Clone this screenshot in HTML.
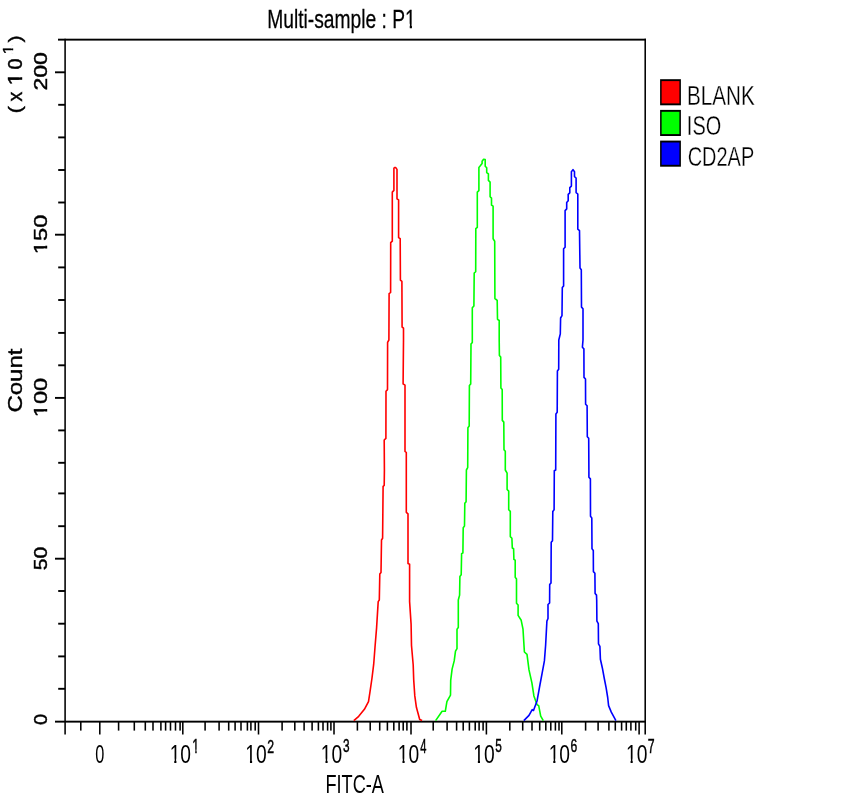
<!DOCTYPE html>
<html><head><meta charset="utf-8"><title>Multi-sample : P1</title>
<style>
html,body{margin:0;padding:0;background:#fff;}
body{width:860px;height:800px;overflow:hidden;}
svg{display:block;will-change:transform;}
text{font-family:"Liberation Sans",sans-serif;font-size:10px;font-kerning:none;}
</style></head><body>
<svg width="860" height="800" viewBox="0 0 860 800">
<defs><clipPath id="k0"><path clip-rule="evenodd" d="M-20,-30H400V20H-20ZM0.200,-1.600H2.400V1.500H0.200ZM3.515,-1.600H5.480V1.500H3.515Z"/></clipPath><clipPath id="k1"><path clip-rule="evenodd" d="M-20,-30H400V20H-20ZM71.885,-1.600H74.085V1.500H71.885ZM75.200,-1.600H77.165V1.500H75.200Z"/></clipPath></defs>
<rect width="860" height="800" fill="#fff"/>
<rect x="58.00" y="38.70" width="588.00" height="1.90" fill="#000"/>
<rect x="55.00" y="720.70" width="591.00" height="1.90" fill="#000"/>
<rect x="64.32" y="38.75" width="1.55" height="695.75" fill="#000"/>
<rect x="644.43" y="38.75" width="1.55" height="695.75" fill="#000"/>
<rect x="58.20" y="687.85" width="6.90" height="1.90" fill="#000"/>
<rect x="58.20" y="655.45" width="6.90" height="1.90" fill="#000"/>
<rect x="58.20" y="622.75" width="6.90" height="1.90" fill="#000"/>
<rect x="58.20" y="590.05" width="6.90" height="1.90" fill="#000"/>
<rect x="55.00" y="557.75" width="10.10" height="1.90" fill="#000"/>
<rect x="58.20" y="525.25" width="6.90" height="1.90" fill="#000"/>
<rect x="58.20" y="492.45" width="6.90" height="1.90" fill="#000"/>
<rect x="58.20" y="461.85" width="6.90" height="1.90" fill="#000"/>
<rect x="58.20" y="429.45" width="6.90" height="1.90" fill="#000"/>
<rect x="55.00" y="396.95" width="10.10" height="1.90" fill="#000"/>
<rect x="58.20" y="364.35" width="6.90" height="1.90" fill="#000"/>
<rect x="58.20" y="331.95" width="6.90" height="1.90" fill="#000"/>
<rect x="58.20" y="299.05" width="6.90" height="1.90" fill="#000"/>
<rect x="58.20" y="266.45" width="6.90" height="1.90" fill="#000"/>
<rect x="55.00" y="233.75" width="10.10" height="1.90" fill="#000"/>
<rect x="58.20" y="201.55" width="6.90" height="1.90" fill="#000"/>
<rect x="58.20" y="169.05" width="6.90" height="1.90" fill="#000"/>
<rect x="58.20" y="136.45" width="6.90" height="1.90" fill="#000"/>
<rect x="58.20" y="103.85" width="6.90" height="1.90" fill="#000"/>
<rect x="55.00" y="71.35" width="10.10" height="1.90" fill="#000"/>
<rect x="99.02" y="721.65" width="1.55" height="12.85" fill="#000"/>
<rect x="80.02" y="721.65" width="1.55" height="8.95" fill="#000"/>
<rect x="117.82" y="721.65" width="1.55" height="8.95" fill="#000"/>
<rect x="133.53" y="721.65" width="1.55" height="8.95" fill="#000"/>
<rect x="144.53" y="721.65" width="1.55" height="8.95" fill="#000"/>
<rect x="152.22" y="721.65" width="1.55" height="8.95" fill="#000"/>
<rect x="160.12" y="721.65" width="1.55" height="8.95" fill="#000"/>
<rect x="164.82" y="721.65" width="1.55" height="8.95" fill="#000"/>
<rect x="169.72" y="721.65" width="1.55" height="8.95" fill="#000"/>
<rect x="174.72" y="721.65" width="1.55" height="8.95" fill="#000"/>
<rect x="179.32" y="721.65" width="1.55" height="8.95" fill="#000"/>
<rect x="182.03" y="721.65" width="1.55" height="12.85" fill="#000"/>
<rect x="257.73" y="721.65" width="1.55" height="12.85" fill="#000"/>
<rect x="333.23" y="721.65" width="1.55" height="12.85" fill="#000"/>
<rect x="410.23" y="721.65" width="1.55" height="12.85" fill="#000"/>
<rect x="485.62" y="721.65" width="1.55" height="12.85" fill="#000"/>
<rect x="561.02" y="721.65" width="1.55" height="12.85" fill="#000"/>
<rect x="638.33" y="721.65" width="1.55" height="12.85" fill="#000"/>
<rect x="204.32" y="721.65" width="1.55" height="8.95" fill="#000"/>
<rect x="218.32" y="721.65" width="1.55" height="8.95" fill="#000"/>
<rect x="227.92" y="721.65" width="1.55" height="8.95" fill="#000"/>
<rect x="234.32" y="721.65" width="1.55" height="8.95" fill="#000"/>
<rect x="240.22" y="721.65" width="1.55" height="8.95" fill="#000"/>
<rect x="246.62" y="721.65" width="1.55" height="8.95" fill="#000"/>
<rect x="250.12" y="721.65" width="1.55" height="8.95" fill="#000"/>
<rect x="254.42" y="721.65" width="1.55" height="8.95" fill="#000"/>
<rect x="281.33" y="721.65" width="1.55" height="8.95" fill="#000"/>
<rect x="294.03" y="721.65" width="1.55" height="8.95" fill="#000"/>
<rect x="303.33" y="721.65" width="1.55" height="8.95" fill="#000"/>
<rect x="311.33" y="721.65" width="1.55" height="8.95" fill="#000"/>
<rect x="317.62" y="721.65" width="1.55" height="8.95" fill="#000"/>
<rect x="322.23" y="721.65" width="1.55" height="8.95" fill="#000"/>
<rect x="326.83" y="721.65" width="1.55" height="8.95" fill="#000"/>
<rect x="330.12" y="721.65" width="1.55" height="8.95" fill="#000"/>
<rect x="356.62" y="721.65" width="1.55" height="8.95" fill="#000"/>
<rect x="369.43" y="721.65" width="1.55" height="8.95" fill="#000"/>
<rect x="378.93" y="721.65" width="1.55" height="8.95" fill="#000"/>
<rect x="386.62" y="721.65" width="1.55" height="8.95" fill="#000"/>
<rect x="393.03" y="721.65" width="1.55" height="8.95" fill="#000"/>
<rect x="398.33" y="721.65" width="1.55" height="8.95" fill="#000"/>
<rect x="402.43" y="721.65" width="1.55" height="8.95" fill="#000"/>
<rect x="406.12" y="721.65" width="1.55" height="8.95" fill="#000"/>
<rect x="432.43" y="721.65" width="1.55" height="8.95" fill="#000"/>
<rect x="446.33" y="721.65" width="1.55" height="8.95" fill="#000"/>
<rect x="455.83" y="721.65" width="1.55" height="8.95" fill="#000"/>
<rect x="462.43" y="721.65" width="1.55" height="8.95" fill="#000"/>
<rect x="468.62" y="721.65" width="1.55" height="8.95" fill="#000"/>
<rect x="474.43" y="721.65" width="1.55" height="8.95" fill="#000"/>
<rect x="478.33" y="721.65" width="1.55" height="8.95" fill="#000"/>
<rect x="482.33" y="721.65" width="1.55" height="8.95" fill="#000"/>
<rect x="509.03" y="721.65" width="1.55" height="8.95" fill="#000"/>
<rect x="521.93" y="721.65" width="1.55" height="8.95" fill="#000"/>
<rect x="531.23" y="721.65" width="1.55" height="8.95" fill="#000"/>
<rect x="538.93" y="721.65" width="1.55" height="8.95" fill="#000"/>
<rect x="545.02" y="721.65" width="1.55" height="8.95" fill="#000"/>
<rect x="550.02" y="721.65" width="1.55" height="8.95" fill="#000"/>
<rect x="554.62" y="721.65" width="1.55" height="8.95" fill="#000"/>
<rect x="558.23" y="721.65" width="1.55" height="8.95" fill="#000"/>
<rect x="584.83" y="721.65" width="1.55" height="8.95" fill="#000"/>
<rect x="597.33" y="721.65" width="1.55" height="8.95" fill="#000"/>
<rect x="608.12" y="721.65" width="1.55" height="8.95" fill="#000"/>
<rect x="614.52" y="721.65" width="1.55" height="8.95" fill="#000"/>
<rect x="620.83" y="721.65" width="1.55" height="8.95" fill="#000"/>
<rect x="625.52" y="721.65" width="1.55" height="8.95" fill="#000"/>
<rect x="630.12" y="721.65" width="1.55" height="8.95" fill="#000"/>
<rect x="634.93" y="721.65" width="1.55" height="8.95" fill="#000"/>
<text transform="matrix(1.6317 0 0 2.5212 95.26 762.75)" fill="#000">0</text>
<text transform="matrix(1.9242 0 0 2.5212 169.65 762.75)" fill="#000" clip-path="url(#k0)">10</text>
<text transform="matrix(1.2313 0 0 1.9477 192.32 752.60)" fill="#000" stroke="#000" stroke-width="0.25" clip-path="url(#k0)">1</text>
<text transform="matrix(1.9242 0 0 2.5212 245.35 762.75)" fill="#000" clip-path="url(#k0)">10</text>
<text transform="matrix(1.2292 0 0 1.9191 267.28 752.60)" fill="#000" stroke="#000" stroke-width="0.25">2</text>
<text transform="matrix(1.9242 0 0 2.5212 320.85 762.75)" fill="#000" clip-path="url(#k0)">10</text>
<text transform="matrix(1.1811 0 0 1.8926 342.95 752.42)" fill="#000" stroke="#000" stroke-width="0.25">3</text>
<text transform="matrix(1.9242 0 0 2.5212 397.85 762.75)" fill="#000" clip-path="url(#k0)">10</text>
<text transform="matrix(1.1113 0 0 1.9477 420.14 752.60)" fill="#000" stroke="#000" stroke-width="0.25">4</text>
<text transform="matrix(1.9242 0 0 2.5212 473.25 762.75)" fill="#000" clip-path="url(#k0)">10</text>
<text transform="matrix(1.1811 0 0 1.9204 495.33 752.41)" fill="#000" stroke="#000" stroke-width="0.25">5</text>
<text transform="matrix(1.9242 0 0 2.5212 548.65 762.75)" fill="#000" clip-path="url(#k0)">10</text>
<text transform="matrix(1.2136 0 0 1.8926 570.58 752.42)" fill="#000" stroke="#000" stroke-width="0.25">6</text>
<text transform="matrix(1.9242 0 0 2.5212 625.95 762.75)" fill="#000" clip-path="url(#k0)">10</text>
<text transform="matrix(1.2319 0 0 1.9477 647.87 752.60)" fill="#000" stroke="#000" stroke-width="0.25">7</text>
<text transform="matrix(1.8166 0 0 2.5581 325.41 793.30)" fill="#000">FITC-A</text>
<text transform="matrix(1.9243 0 0 2.5436 267.22 27.70)" fill="#000" stroke="#000" stroke-width="0.1" clip-path="url(#k1)">Multi-sample : P1</text>
<text transform="translate(46.62 90.56) rotate(-90) scale(2.2988 1.8503)" stroke="#000" stroke-width="0.22">200</text>
<text transform="translate(46.62 254.18) rotate(-90) scale(2.3676 1.8503)" stroke="#000" stroke-width="0.22" clip-path="url(#k0)">150</text>
<text transform="translate(46.62 417.28) rotate(-90) scale(2.3676 1.8503)" stroke="#000" stroke-width="0.22" clip-path="url(#k0)">100</text>
<text transform="translate(46.62 570.24) rotate(-90) scale(2.1099 1.8503)" stroke="#000" stroke-width="0.22">50</text>
<text transform="translate(46.62 724.97) rotate(-90) scale(1.9664 1.8503)" stroke="#000" stroke-width="0.22">0</text>
<text transform="translate(21.71 412.62) rotate(-90) scale(2.4020 1.9350)" stroke="#000" stroke-width="0.18">Count</text>
<text transform="translate(21.24 113.23) rotate(-90) scale(2.1498 1.8140)" stroke="#000" stroke-width="0.22">(</text>
<text transform="translate(21.90 101.52) rotate(-90) scale(1.9664 2.0253)" stroke="#000" stroke-width="0.22">x</text>
<text transform="translate(21.90 85.45) rotate(-90) scale(2.3394 1.9477)" stroke="#000" stroke-width="0.22" clip-path="url(#k0)">1</text>
<text transform="translate(21.91 69.57) rotate(-90) scale(1.9769 1.9633)" stroke="#000" stroke-width="0.22">0</text>
<text transform="translate(13.30 54.18) rotate(-90) scale(1.6417 1.4099)" stroke="#000" stroke-width="0.3" clip-path="url(#k0)">1</text>
<text transform="translate(21.24 42.62) rotate(-90) scale(2.1310 1.8140)" stroke="#000" stroke-width="0.22">)</text>
<rect x="660.1" y="79.20" width="20.8" height="26.1" fill="#000"/>
<rect x="661.6" y="81.10" width="17.8" height="22.3" fill="#ff0000"/>
<text transform="matrix(2.0684 0 0 2.7326 687.00 104.70)" fill="#000" stroke="#fff" stroke-width="0.1">BLANK</text>
<rect x="660.1" y="109.90" width="20.8" height="26.1" fill="#000"/>
<rect x="661.6" y="111.80" width="17.8" height="22.3" fill="#00ff00"/>
<text transform="matrix(1.9905 0 0 2.7326 686.86 135.35)" fill="#000" stroke="#fff" stroke-width="0.1">ISO</text>
<rect x="660.1" y="140.60" width="20.8" height="26.1" fill="#000"/>
<rect x="661.6" y="142.50" width="17.8" height="22.3" fill="#0000ff"/>
<text transform="matrix(1.9963 0 0 2.7326 687.69 166.00)" fill="#000" stroke="#fff" stroke-width="0.1">CD2AP</text>
<polyline points="353.8,720.6 358.7,716.3 364.4,709.3 368.5,701.6 370.1,691.1 372.0,678.0 373.7,664.2 375.0,647.2 376.6,627.6 378.2,601.6 379.3,600.0 379.8,574.0 381.0,572.4 381.5,540.0 382.6,538.3 383.1,486.3 384.2,485.4 384.4,470.0 384.2,440.0 385.9,438.4 386.0,391.2 387.5,389.6 387.6,342.4 388.9,340.0 389.1,293.7 390.6,292.5 390.7,242.7 392.3,241.2 392.3,192.1 393.9,190.4 393.9,168.3 394.6,167.5 395.6,167.5 397.0,169.4 397.0,198.8 398.6,199.9 398.6,237.6 400.2,238.7 400.4,280.2 401.9,281.4 402.1,327.0 403.5,328.1 403.5,340.0 403.1,383.9 405.0,385.2 405.0,451.4 406.3,452.5 406.3,470.0 406.3,512.3 408.0,513.9 408.0,563.5 409.6,564.3 409.6,601.6 411.1,624.4 411.5,645.5 413.2,665.0 413.7,679.7 414.8,695.9 416.4,707.3 419.7,719.5 422.1,720.6" fill="none" stroke="#ff0000" stroke-width="1.6" stroke-linejoin="round"/>
<polyline points="435.6,720.6 442.1,711.3 445.3,711.3 446.9,701.6 450.5,695.1 450.7,680.4 452.1,669.1 454.2,660.9 455.5,651.2 457.0,648.7 457.0,629.2 458.3,627.6 458.3,600.0 459.6,595.1 459.9,576.4 461.2,574.8 461.6,553.7 462.9,552.9 463.2,527.7 464.5,526.1 464.8,503.3 466.1,501.7 466.4,470.0 467.7,467.6 467.9,427.7 469.2,426.1 469.4,385.5 470.7,383.9 471.0,344.1 472.3,342.4 472.3,307.8 473.9,305.9 474.2,273.0 475.7,271.7 475.8,228.7 477.3,227.4 477.3,192.2 478.9,190.7 478.9,167.4 480.5,165.5 482.1,163.5 482.1,161.2 483.6,159.2 485.2,159.6 485.2,166.3 486.7,167.8 486.7,172.5 488.4,173.8 488.4,180.4 490.1,182.1 490.1,196.7 491.5,198.1 491.5,205.1 493.1,206.2 493.1,238.8 494.7,241.3 494.9,298.5 497.2,300.3 497.5,319.3 499.2,320.5 499.2,340.0 499.4,355.4 500.7,357.1 500.9,387.9 502.2,389.6 502.3,420.4 503.8,422.1 504.0,449.7 505.3,451.3 505.3,470.0 507.1,473.2 507.1,489.5 508.7,491.1 508.7,509.8 510.3,511.4 510.3,536.6 511.9,538.2 512.3,548.0 513.6,548.8 513.9,559.4 515.2,560.2 515.2,577.2 516.5,578.9 516.5,603.3 518.1,605.0 518.1,615.4 521.2,620.3 523.0,629.2 524.4,652.0 527.0,654.4 529.0,669.9 531.9,682.9 533.9,695.9 537.1,704.8 538.7,705.6 540.7,716.2 543.3,720.6" fill="none" stroke="#00ff00" stroke-width="1.6" stroke-linejoin="round"/>
<polyline points="523.8,720.6 529.0,715.4 532.2,709.7 533.5,710.5 537.1,700.7 540.0,684.5 542.0,673.9 544.4,660.9 545.6,645.5 546.9,621.1 548.0,618.5 548.0,604.5 549.6,603.0 549.7,584.6 551.0,582.9 551.2,542.3 552.5,540.7 552.8,511.4 554.1,509.8 554.3,470.8 555.7,470.0 555.9,413.9 557.2,412.3 557.4,370.9 558.7,369.2 558.8,340.0 560.3,333.9 560.6,318.0 562.0,315.6 562.3,287.6 563.6,285.9 563.6,248.8 565.1,247.2 565.1,210.6 566.7,208.9 566.7,202.5 568.2,200.7 568.2,194.3 569.8,192.8 569.8,187.6 571.4,186.1 571.4,171.8 573.0,169.6 574.5,171.8 574.5,176.6 576.1,178.0 576.1,192.6 577.8,194.0 577.8,229.2 579.5,230.6 580.0,268.1 581.3,269.8 581.5,307.1 583.0,308.8 583.0,340.0 582.4,347.3 583.9,348.9 584.0,377.4 585.5,379.0 585.6,404.2 587.1,405.8 587.3,436.7 588.7,438.3 588.9,470.0 588.9,477.3 590.4,478.9 590.5,516.3 591.8,517.9 592.0,548.8 593.3,550.4 593.4,571.6 594.9,573.2 595.1,593.5 596.5,595.1 596.7,600.0 596.9,621.1 598.3,623.6 598.5,643.9 599.9,646.3 600.4,659.3 602.4,668.2 604.2,678.0 606.1,687.7 607.7,697.5 608.6,705.6 611.3,712.1 615.9,720.6" fill="none" stroke="#0000ff" stroke-width="1.6" stroke-linejoin="round"/>
</svg>
</body></html>
